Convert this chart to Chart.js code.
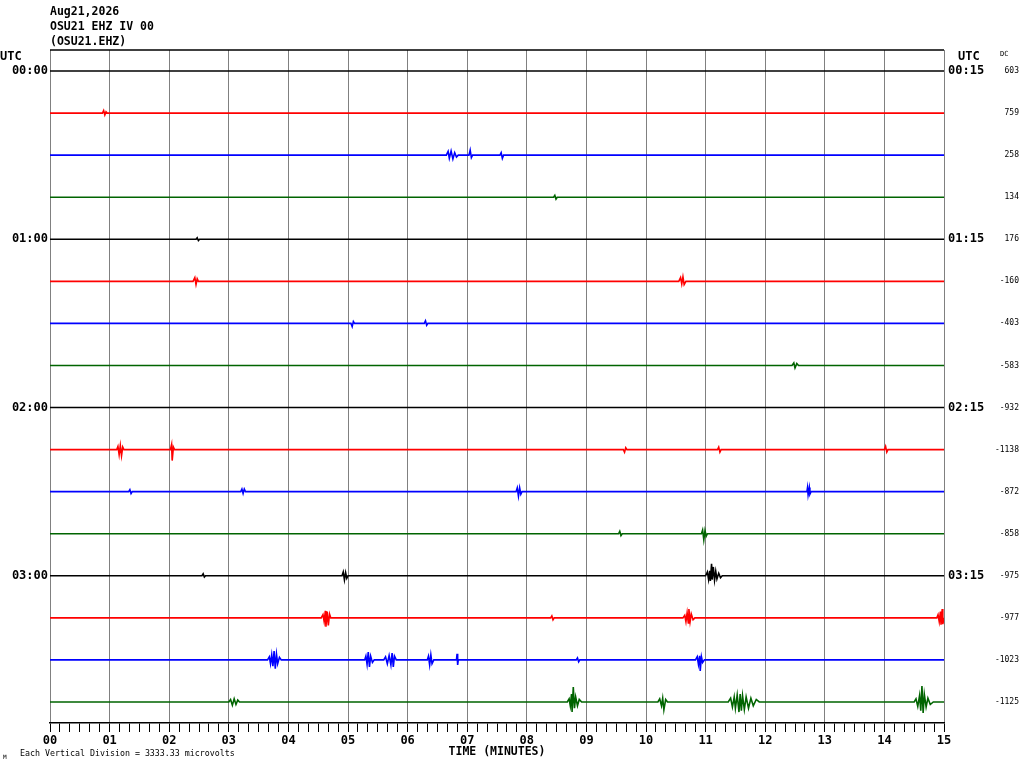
<!DOCTYPE html>
<html>
<head>
<meta charset="utf-8">
<script src="https://cdn.jsdelivr.net/npm/chart.js@4.4.1/dist/chart.umd.min.js"></script>
<style>
  html, body { margin: 0; padding: 0; background: #fff; }
  #wrap { width: 1024px; height: 768px; }
</style>
</head>
<body>
<div id="wrap"><canvas id="c" width="1024" height="768"></canvas></div>
<script>
// ---------- data ----------
const headerLines = ['Aug21,2026', 'OSU21 EHZ IV 00', '(OSU21.EHZ)'];
const leftTimeLabels = ['00:00', '01:00', '02:00', '03:00'];
const rightTimeLabels = ['00:15', '01:15', '02:15', '03:15'];
const dcValues = ['603', '759', '258', '134', '176', '-160', '-403', '-583',
                  '-932', '-1138', '-872', '-858', '-975', '-977', '-1023', '-1125'];
const traceColors = ['#000000', '#ff0000', '#0000ff', '#006400'];
const microvoltsPerDivision = 3333.33;
const minutesPerLine = 15;
const xTickLabels = ['00','01','02','03','04','05','06','07','08','09','10','11','12','13','14','15'];

// events per trace: [minute, microvolts] (baseline 0 elsewhere)
const trace00 = [];
const trace01 = [[0.88,0],[0.9,200],[0.92,-150],[0.94,100],[0.96,0]];
const trace02 = [[6.65,0],[6.68,300],[6.7,-250],[6.73,330],[6.76,-300],[6.79,200],[6.82,-150],[6.85,0],
                 [7.03,0],[7.05,400],[7.07,-200],[7.09,0],[7.55,0],[7.57,200],[7.59,-250],[7.61,0]];
const trace03 = [[8.45,0],[8.47,150],[8.49,-150],[8.51,0]];
const trace04 = [[2.45,0],[2.47,120],[2.49,-100],[2.51,0]];
const trace05 = [[2.4,0],[2.43,300],[2.45,-250],[2.47,200],[2.49,0],
                 [10.55,0],[10.58,300],[10.6,-200],[10.62,350],[10.64,-250],[10.67,0]];
const trace06 = [[5.05,0],[5.07,-250],[5.09,150],[5.11,0],[6.28,0],[6.3,200],[6.32,-150],[6.34,0]];
const trace07 = [[12.45,0],[12.48,200],[12.5,-200],[12.53,150],[12.56,0]];
const trace08 = [];
const trace09 = [[1.12,0],[1.14,250],[1.16,-400],[1.18,320],[1.2,-480],[1.22,200],[1.24,0],
                 [2.02,0],[2.04,400],[2.05,-870],[2.07,200],[2.09,0],
                 [9.62,0],[9.64,-200],[9.66,150],[9.68,0],[11.2,0],[11.22,200],[11.24,-200],[11.26,0],
                 [14.0,0],[14.02,250],[14.04,-200],[14.06,0]];
const trace10 = [[1.32,0],[1.34,150],[1.36,-150],[1.38,0],[3.2,0],[3.22,200],[3.24,-150],[3.26,200],[3.28,0],
                 [7.82,0],[7.84,300],[7.86,-350],[7.88,300],[7.9,-200],[7.92,0],
                 [12.7,0],[12.71,320],[12.72,-250],[12.74,320],[12.75,-200],[12.77,0]];
const trace11 = [[9.54,0],[9.56,200],[9.58,-150],[9.6,0],
                 [10.93,0],[10.95,300],[10.97,-480],[10.99,250],[11.01,-200],[11.03,0]];
const trace12 = [[2.55,0],[2.57,150],[2.59,-100],[2.61,0],
                 [4.9,0],[4.92,300],[4.94,-320],[4.96,250],[4.98,-200],[5.0,0],
                 [11.0,0],[11.03,300],[11.05,-300],[11.07,400],[11.08,-400],[11.1,950],[11.11,-300],
                 [11.13,700],[11.15,-350],[11.17,350],[11.19,-250],[11.22,200],[11.25,-150],[11.28,0]];
const trace13 = [[4.55,0],[4.58,250],[4.6,-300],[4.62,550],[4.63,-700],[4.65,500],[4.67,-600],[4.69,300],[4.71,0],
                 [8.4,0],[8.42,150],[8.44,-150],[8.46,0],
                 [10.62,0],[10.65,200],[10.67,-300],[10.69,400],[10.71,-400],[10.72,700],[10.74,-300],
                 [10.76,300],[10.79,-150],[10.82,0],
                 [14.88,0],[14.9,250],[14.92,-300],[14.94,500],[14.95,-550],[14.97,700],[14.98,-500],[15,0]];
const trace14 = [[3.65,0],[3.68,250],[3.7,-300],[3.72,400],[3.74,-500],[3.76,700],[3.78,-700],[3.8,450],
                 [3.82,-300],[3.85,200],[3.88,0],
                 [5.28,0],[5.3,300],[5.32,-350],[5.34,630],[5.36,-550],[5.38,300],[5.41,-200],[5.44,0],
                 [5.6,0],[5.63,250],[5.66,-300],[5.69,350],[5.72,-400],[5.74,550],[5.76,-550],[5.78,300],[5.81,0],
                 [6.33,0],[6.35,300],[6.37,-400],[6.39,400],[6.41,-300],[6.44,0],
                 [6.82,0],[6.83,480],[6.84,-400],[6.85,0],[8.83,0],[8.85,150],[8.87,-150],[8.89,0],
                 [10.83,0],[10.86,250],[10.88,-350],[10.9,320],[10.91,-870],[10.93,250],[10.95,-200],[10.98,0]];
const trace15 = [[3.0,0],[3.03,200],[3.06,-250],[3.09,250],[3.12,-200],[3.15,150],[3.18,0],
                 [8.68,0],[8.71,250],[8.73,-300],[8.75,630],[8.76,-800],[8.78,1190],[8.8,-500],[8.82,400],
                 [8.85,-300],[8.88,200],[8.92,0],
                 [10.2,0],[10.23,250],[10.26,-300],[10.28,300],[10.3,-630],[10.33,200],[10.36,0],
                 [11.38,0],[11.42,300],[11.45,-400],[11.48,400],[11.5,-500],[11.53,550],[11.56,-800],
                 [11.58,630],[11.6,-700],[11.62,500],[11.65,-600],[11.68,400],[11.72,-500],[11.76,300],
                 [11.8,-300],[11.85,200],[11.9,0],
                 [14.5,0],[14.53,250],[14.56,-350],[14.59,500],[14.61,-700],[14.63,1270],[14.65,-870],
                 [14.67,600],[14.7,-400],[14.73,300],[14.77,-200],[14.82,0]];
const traces = [trace00, trace01, trace02, trace03, trace04, trace05, trace06, trace07,
                trace08, trace09, trace10, trace11, trace12, trace13, trace14, trace15];

// ---------- build ----------
const FONT = "'DejaVu Sans Mono', monospace";
const nLines = traces.length;
const datasets = traces.map((ev, i) => {
  const base = i + 0.5;
  const pts = [{x: 0, y: base}];
  ev.forEach(([t, uv]) => pts.push({x: t, y: base - uv / microvoltsPerDivision}));
  if (pts[pts.length - 1].x < minutesPerLine) pts.push({x: minutesPerLine, y: base});
  return {
    data: pts,
    borderColor: traceColors[i % 4],
    borderWidth: 1.6,
    pointRadius: 0,
    tension: 0,
    fill: false,
    xAxisID: 'x',
    yAxisID: 'y'
  };
});
const traceCenters = traces.map((_, i) => ({value: i + 0.5}));

const extras = {
  id: 'extras',
  afterDraw(chart) {
    const {ctx, chartArea: a} = chart;
    ctx.save();
    ctx.strokeStyle = '#000';
    ctx.lineWidth = 1.5;
    ctx.beginPath();
    ctx.moveTo(a.left, a.top);
    ctx.lineTo(a.right, a.top);
    ctx.stroke();
    ctx.fillStyle = '#000';
    ctx.textBaseline = 'middle';
    ctx.font = 'bold 12px ' + FONT;
    ctx.textAlign = 'left';
    ctx.fillText('UTC', 0, 57);
    ctx.fillText('UTC', 958, 57);
    ctx.font = '7px ' + FONT;
    ctx.fillText('DC', 1000, 54);
    ctx.font = '8.3px ' + FONT;
    ctx.fillText('Each Vertical Division = 3333.33 microvolts', 20, 754);
    ctx.font = '6px ' + FONT;
    ctx.fillText('M', 3, 757);
    ctx.restore();
  }
};

new Chart(document.getElementById('c'), {
  type: 'line',
  data: {datasets},
  plugins: [extras],
  options: {
    responsive: false,
    animation: false,
    devicePixelRatio: 1,
    layout: {padding: {left: 0, right: 5, top: 0, bottom: 0}},
    plugins: {
      legend: {display: false},
      tooltip: {enabled: false},
      title: {
        display: true,
        text: headerLines,
        align: 'start',
        fullSize: false,
        color: '#000',
        font: {family: FONT, size: 11.5, weight: 'bold', lineHeight: 15 / 11.5},
        padding: {top: 5, bottom: 0}
      }
    },
    scales: {
      x: {
        type: 'linear',
        min: 0, max: minutesPerLine,
        afterBuildTicks: s => { const t = []; for (let k = 0; k <= minutesPerLine * 6; k++) t.push({value: k / 6}); s.ticks = t; },
        afterFit: s => { s.height = 45; },
        grid: {
          color: c => (c.index % 6 === 0 ? '#808080' : 'rgba(0,0,0,0)'),
          tickColor: '#000',
          tickLength: 9,
          lineWidth: 1
        },
        border: {display: true, color: '#000', width: 1.5},
        ticks: {
          autoSkip: false, maxRotation: 0, padding: 2, color: '#000',
          font: {family: FONT, size: 12, weight: 'bold'},
          callback: (v, i) => (i % 6 === 0 ? xTickLabels[i / 6] : '')
        },
        title: {
          display: true, text: 'TIME (MINUTES)', color: '#000',
          font: {family: FONT, size: 11.5, weight: 'bold'},
          padding: {top: 0, bottom: 9}
        }
      },
      y: {
        type: 'linear', position: 'left', min: 0, max: nLines, reverse: true,
        afterBuildTicks: s => { s.ticks = traceCenters.map(t => ({value: t.value})); },
        afterFit: s => { s.width = 50; },
        grid: {display: false, drawTicks: false},
        border: {display: false},
        ticks: {
          autoSkip: false, padding: 2, color: '#000',
          font: {family: FONT, size: 12, weight: 'bold'},
          callback: (v, i) => (i % 4 === 0 ? leftTimeLabels[i / 4] : '')
        }
      },
      y2: {
        type: 'linear', position: 'right', min: 0, max: nLines, reverse: true, weight: 0,
        afterBuildTicks: s => { s.ticks = traceCenters.map(t => ({value: t.value})); },
        afterFit: s => { s.width = 44; },
        grid: {display: false, drawTicks: false},
        border: {display: false},
        ticks: {
          autoSkip: false, padding: 4, color: '#000', crossAlign: 'near',
          font: {family: FONT, size: 12, weight: 'bold'},
          callback: (v, i) => (i % 4 === 0 ? rightTimeLabels[i / 4] : '')
        }
      },
      y3: {
        type: 'linear', position: 'right', min: 0, max: nLines, reverse: true, weight: 1,
        afterBuildTicks: s => { s.ticks = traceCenters.map(t => ({value: t.value})); },
        afterFit: s => { s.width = 31; },
        grid: {display: false, drawTicks: false},
        border: {display: false},
        ticks: {
          autoSkip: false, padding: 2, color: '#000', crossAlign: 'far',
          font: {family: FONT, size: 8},
          callback: (v, i) => dcValues[i]
        }
      }
    }
  }
});
</script>
</body>
</html>
